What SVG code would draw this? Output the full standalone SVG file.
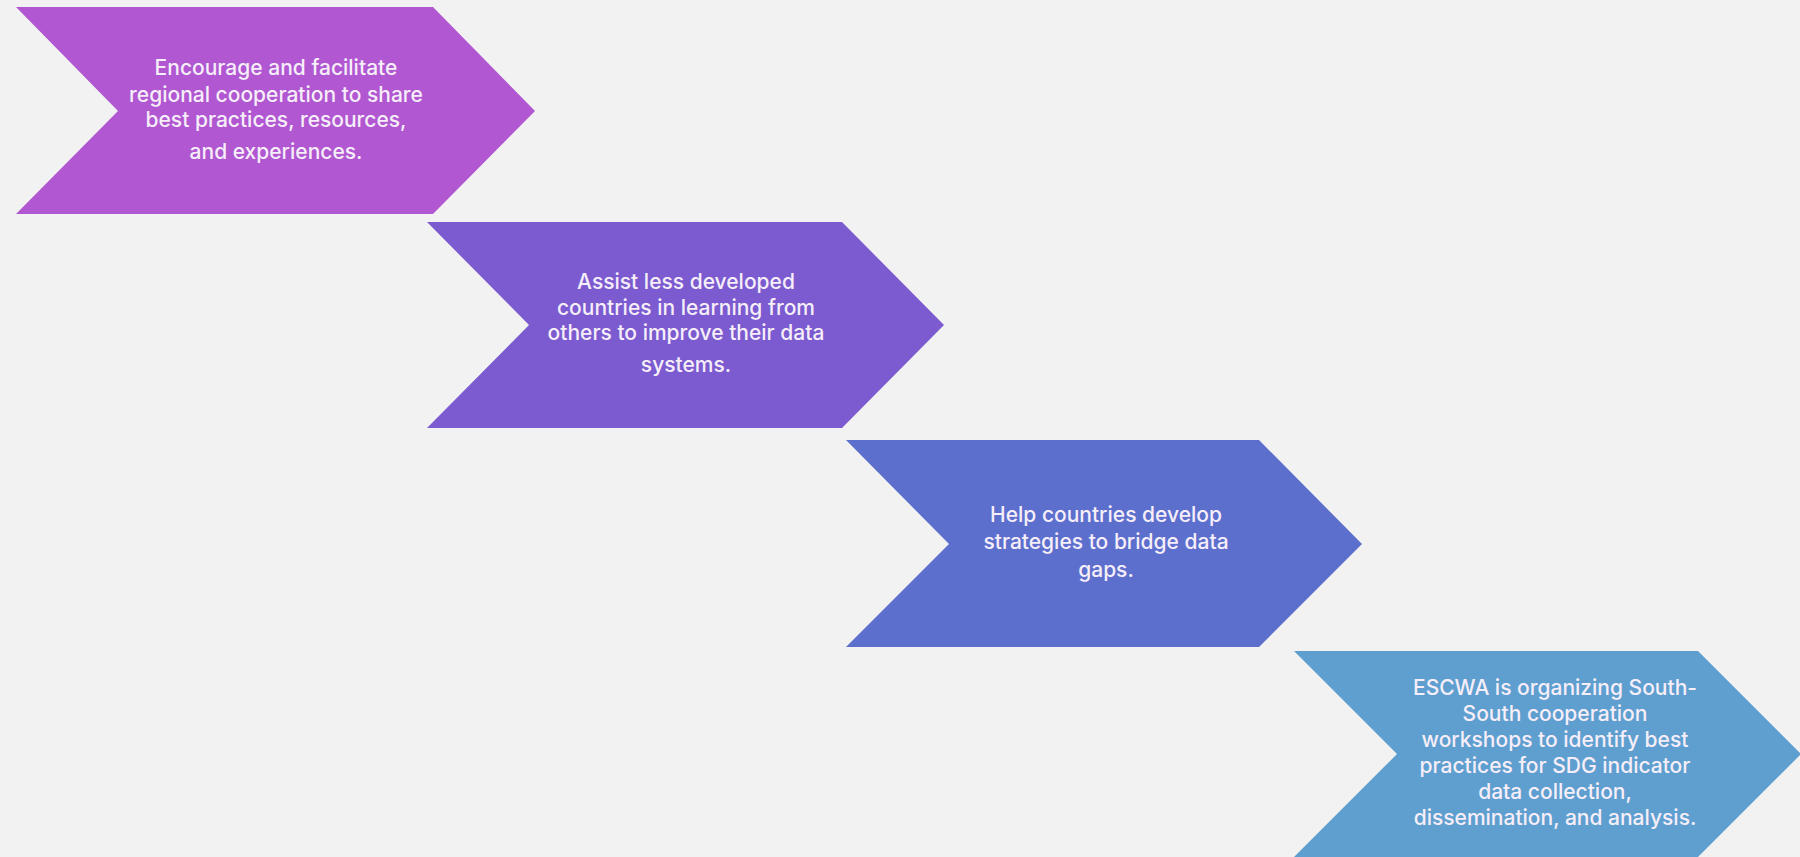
<svg xmlns="http://www.w3.org/2000/svg" width="1800" height="857" viewBox="0 0 1800 857">
<style>
.t{font-family:Inter,"Liberation Sans",Arial,sans-serif;font-size:21px;font-weight:500;fill:#f6eef9;text-anchor:middle}
</style>
<rect width="1800" height="857" fill="#f2f2f2"/>
<g id="connectors"></g>
<g id="step1">
<polygon points="16,7 433,7 535,111 433,214 16,214 118,111" fill="#b057d1"/>
<text class="t" x="276" y="75">Encourage and facilitate</text>
<text class="t" x="276" y="102">regional cooperation to share</text>
<text class="t" x="276" y="127">best practices, resources,</text>
<text class="t" x="276" y="159">and experiences.</text>
</g>
<g id="step2">
<polygon points="427,222 842,222 944,325 842,428 427,428 529,325" fill="#7b5bcf"/>
<text class="t" x="686" y="289">Assist less developed</text>
<text class="t" x="686" y="315">countries in learning from</text>
<text class="t" x="686" y="340">others to improve their data</text>
<text class="t" x="686" y="372">systems.</text>
</g>
<g id="step3">
<polygon points="846,440 1259,440 1362,544 1259,647 846,647 949,544" fill="#5d6fcd"/>
<text class="t" x="1106" y="522">Help countries develop</text>
<text class="t" x="1106" y="549">strategies to bridge data</text>
<text class="t" x="1106" y="577">gaps.</text>
</g>
<g id="step4">
<polygon points="1294,651 1698,651 1801,754 1698,857 1294,857 1397,754" fill="#5f9fcf"/>
<text class="t" x="1555" y="695">ESCWA is organizing South-</text>
<text class="t" x="1555" y="721">South cooperation</text>
<text class="t" x="1555" y="747">workshops to identify best</text>
<text class="t" x="1555" y="773">practices for SDG indicator</text>
<text class="t" x="1555" y="799">data collection,</text>
<text class="t" x="1555" y="825">dissemination, and analysis.</text>
</g>
</svg>
